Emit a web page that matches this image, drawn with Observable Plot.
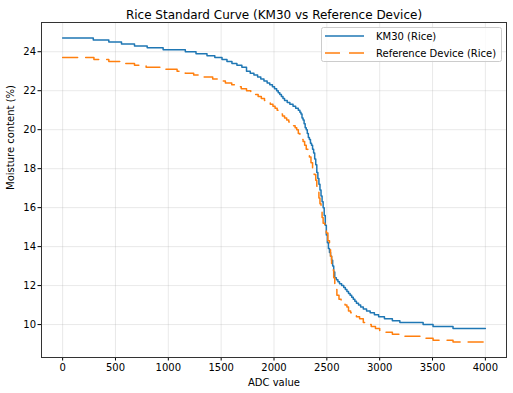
<!DOCTYPE html>
<html><head><meta charset="utf-8">
<script src="https://cdn.jsdelivr.net/npm/d3@7"></script>
<script src="https://cdn.jsdelivr.net/npm/@observablehq/plot@0.6"></script>
<style>body{margin:0;background:#fff} svg{display:block}</style>
</head><body><div id="chart"></div>
<script>
// KM30 (Rice): ADC breakpoints and moisture (%) held until next breakpoint
const km30Adc = [0,290,437,557,680,800,951,1161,1262,1366,1440,1508,1555,1602,1649,1696,1740,1775,1810,1845,1875,1905,1935,1960,1985,2005,2025,2040,2055,2070,2085,2100,2125,2150,2180,2205,2230,2245,2255,2265,2275,2285,2295,2305,2315,2325,2335,2345,2355,2365,2375,2385,2395,2405,2415,2425,2435,2445,2455,2465,2475,2485,2495,2505,2515,2525,2535,2545,2555,2565,2575,2590,2605,2620,2640,2660,2675,2690,2705,2720,2735,2750,2765,2780,2800,2820,2845,2876,2910,2950,2990,3045,3120,3191,3411,3505,3694,4000];
const km30Moisture = [24.7,24.6,24.5,24.4,24.3,24.2,24.1,24.0,23.9,23.8,23.7,23.6,23.5,23.4,23.3,23.2,23.0,22.9,22.8,22.7,22.6,22.5,22.4,22.3,22.2,22.1,22.0,21.9,21.8,21.7,21.6,21.5,21.4,21.3,21.2,21.1,21.0,20.9,20.8,20.6,20.5,20.3,20.1,20.0,19.8,19.6,19.5,19.3,19.2,19.0,18.8,18.5,18.2,17.8,17.5,17.2,16.9,16.6,16.3,16.0,15.6,15.1,14.6,14.2,13.9,13.7,13.5,13.3,13.0,12.7,12.4,12.3,12.2,12.1,12.0,11.9,11.8,11.7,11.6,11.5,11.4,11.3,11.2,11.1,11.0,10.9,10.8,10.7,10.6,10.5,10.4,10.3,10.2,10.1,10.0,9.9,9.8,9.8];
// Reference Device (Rice)
const refAdc = [0,296,437,557,680,790,960,1083,1160,1240,1330,1420,1470,1540,1600,1640,1690,1740,1780,1810,1850,1880,1910,1940,1965,1990,2010,2030,2050,2065,2080,2100,2120,2140,2165,2185,2200,2215,2230,2245,2260,2275,2290,2305,2320,2335,2350,2365,2380,2395,2405,2415,2425,2435,2445,2455,2465,2480,2495,2510,2525,2535,2545,2555,2565,2575,2585,2595,2615,2635,2655,2672,2690,2705,2725,2750,2780,2810,2845,2880,2920,2960,3000,3060,3120,3191,3411,3505,3694,4000];
const refMoisture = [23.7,23.6,23.5,23.4,23.3,23.2,23.1,23.0,22.9,22.8,22.7,22.6,22.5,22.4,22.3,22.2,22.1,22.0,21.9,21.8,21.7,21.6,21.5,21.4,21.3,21.2,21.1,21.0,20.9,20.8,20.7,20.6,20.5,20.4,20.3,20.2,20.1,20.0,19.8,19.7,19.5,19.4,19.2,19.0,18.8,18.6,18.3,18.0,17.7,17.4,17.1,16.8,16.5,16.2,15.8,15.5,15.2,15.0,14.7,14.3,14.0,13.5,13.1,12.8,12.4,12.1,11.8,11.5,11.3,11.2,11.1,11.0,10.9,10.7,10.6,10.5,10.4,10.3,10.1,10.0,9.9,9.8,9.7,9.6,9.5,9.4,9.3,9.2,9.1,9.1];

const xTicks = [0,500,1000,1500,2000,2500,3000,3500,4000];
const yTicks = [10,12,14,16,18,20,22,24];
const seriesNames = ["KM30 (Rice)", "Reference Device (Rice)"];
const colors = ["#1f77b4", "#ff7f0e"];
const titleText = "Rice Standard Curve (KM30 vs Reference Device)";
const xLabel = "ADC value";
const yLabel = "Moisture content (%)";

const km30 = km30Adc.map((a, i) => ({adc: a, m: km30Moisture[i]}));
const ref = refAdc.map((a, i) => ({adc: a, m: refMoisture[i]}));
const FONT = "DejaVu Sans";

const chart = Plot.plot({
  width: 513, height: 393,
  marginLeft: 41, marginRight: 7, marginTop: 22, marginBottom: 36,
  style: {fontFamily: FONT, fontSize: "10px", background: "white", color: "#000"},
  x: {domain: [-200, 4200]},
  y: {domain: [8.31, 25.5]},
  marks: [
    Plot.gridX(xTicks, {stroke: "#b0b0b0", strokeOpacity: 0.28, strokeWidth: 1}),
    Plot.gridY(yTicks, {stroke: "#b0b0b0", strokeOpacity: 0.28, strokeWidth: 1}),
    Plot.axisX(xTicks, {tickSize: 3.5, tickPadding: 3, label: null, tickFormat: d => String(d), fontSize: 10}),
    Plot.axisY(yTicks, {tickSize: 3.5, tickPadding: 2, label: null, tickFormat: d => String(d), fontSize: 10}),
    Plot.line(km30, {x: "adc", y: "m", curve: "step-after", stroke: colors[0], strokeWidth: 1.5}),
    Plot.line(ref, {x: "adc", y: "m", curve: "step-after", stroke: colors[1], strokeWidth: 1.5, strokeDasharray: "15,8"}),
    Plot.frame({stroke: "#333", strokeWidth: 1}),
    Plot.text([titleText], {frameAnchor: "top", dy: -12, fontSize: 12, fill: "#000"}),
    Plot.text([xLabel], {frameAnchor: "bottom", dy: 28, fontSize: 10, fill: "#000"}),
    Plot.text([yLabel], {frameAnchor: "left", dx: -31, rotate: -90, fontSize: 10, fill: "#000"})
  ]
});

// legend
const svg = d3.select(chart);
const lg = svg.append("g").attr("font-family", FONT).attr("font-size", 10).attr("text-anchor", "start");
lg.append("rect").attr("x", 321.5).attr("y", 27.5).attr("width", 180).attr("height", 34)
  .attr("rx", 2).attr("fill", "white").attr("fill-opacity", 0.8).attr("stroke", "#cccccc");
seriesNames.forEach((name, i) => {
  const yy = 36 + i * 17;
  const ln = lg.append("line").attr("x1", 325).attr("x2", 364).attr("y1", yy).attr("y2", yy)
    .attr("stroke", colors[i]).attr("stroke-width", 1.5).attr("fill", "none");
  if (i === 1) ln.attr("stroke-dasharray", "15,9");
  lg.append("text").attr("x", 376).attr("y", yy).attr("dy", "0.35em")
    .attr("text-anchor", "start").attr("fill", "#000").text(name);
});

document.getElementById("chart").appendChild(chart);
</script>
</body></html>
